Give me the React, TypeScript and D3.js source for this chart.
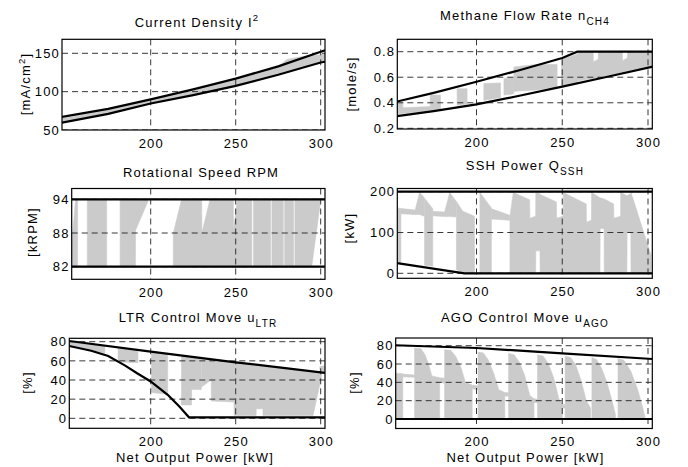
import React from 'react'
import { scaleLinear, area, line } from 'd3'

// x ticks shared by every panel (net output power, kW)
const xTicks = [200, 250, 300]

// ---- Current density ----
const curTicks = [50, 100, 150]
const curUpper = [[147.8, 67], [175, 77.5], [200, 90], [225, 103], [250, 117], [275, 133], [300, 152], [302.5, 154]]
const curLower = [[147.8, 59.5], [175, 71], [200, 84.5], [225, 95.5], [250, 107.5], [275, 122], [300, 138], [302.5, 139]]
const curBands = [
    [[147.8, 60.5, 65], [160, 65.5, 70], [175, 72, 76], [200, 85, 88.5], [225, 96.5, 101], [240, 103, 110],
     [250, 108.5, 115], [265, 117, 125], [275, 123, 132], [280, 126.5, 142], [290, 132, 146], [300, 139, 148], [302.5, 140, 149]],
]

// ---- Methane flow rate ----
const ch4Ticks = [0.2, 0.4, 0.6, 0.8]
const ch4Upper = [[153.7, 0.41], [175, 0.478], [200, 0.565], [225, 0.655], [250, 0.75], [258.8, 0.8], [302.8, 0.8]]
const ch4Lower = [[153.7, 0.296], [175, 0.335], [200, 0.388], [225, 0.455], [250, 0.526], [275, 0.6], [302.8, 0.683]]
const ch4Bands = [
    [[153.7, 0.31, 0.4], [157, 0.315, 0.4], [157.1, 0.315, 0.36], [172.9, 0.335, 0.37]],
    [[173, 0.34, 0.46], [179, 0.35, 0.46]],
    [[188.7, 0.38, 0.51], [194.5, 0.39, 0.51]],
    [[204.3, 0.42, 0.55], [214, 0.44, 0.555]],
    [[216, 0.46, 0.59], [221.7, 0.47, 0.6]],
    [[221.8, 0.49, 0.68], [235, 0.5, 0.7], [247, 0.52, 0.7]],
    [[249.5, 0.53, 0.74], [258.9, 0.56, 0.78], [259, 0.57, 0.8], [268, 0.59, 0.8], [268.1, 0.59, 0.72],
     [271, 0.6, 0.74], [271.1, 0.6, 0.8], [285, 0.64, 0.8], [285.1, 0.64, 0.73], [288, 0.65, 0.75],
     [288.1, 0.65, 0.8], [302.8, 0.69, 0.8]],
]

// ---- Rotational speed ----
const rpmTicks = [82, 88, 94]
const rpmUpper = [[153.5, 94], [302.5, 94]]
const rpmLower = [[153.5, 82], [302.5, 82]]
const rpmBands = [
    [[153.5, 82, 85.5], [155.8, 82, 94], [157, 82, 94]],
    [[162.7, 82, 94], [174.1, 82, 94]],
    [[182, 82, 94], [191, 82, 94], [191.1, 88.5, 94], [198.6, 93.8, 94]],
    [[213.3, 82, 88], [218.2, 82, 94], [230, 82, 94], [230.1, 82, 88], [234.9, 82, 94], [248.6, 82, 94],
     [248.7, 82, 88.5], [251, 82, 94], [259.5, 82, 94]],
    [[260.5, 82, 94], [270.5, 82, 94]],
    [[271.3, 82, 94], [278, 82, 94]],
    [[278.8, 82, 94], [284, 82, 94]],
    [[284.8, 82, 94], [294.7, 82, 94], [299.6, 93, 94]],
]

// ---- SSH power ----
const sshTicks = [0, 100, 200]
const sshUpper = [[153.7, 200], [302.8, 200]]
const sshLower = [[153.7, 25], [193, 0], [302.8, 0]]
const sshBands = [
    [[153.7, 26, 160], [155.9, 25, 159]],
    [[156, 146, 159], [164.2, 144, 155], [164.3, 144, 156], [166.8, 144, 198], [169.6, 140, 185]],
    [[169.7, 20, 184], [174.5, 17, 158]],
    [[174.6, 141, 152], [181.4, 139, 150], [184.4, 139, 198], [188.2, 138, 176]],
    [[188.3, 9, 176], [192, 1, 152], [198.8, 1, 140]],
    [[202, 1, 198], [208.7, 1, 160]],
    [[208.8, 133, 158], [219.4, 130, 142]],
    [[219.5, 1, 140], [221.5, 1, 198], [231, 1, 180], [231.1, 1, 135], [234.5, 1, 140], [234.6, 55, 198],
     [237, 55, 195], [237.1, 1, 193], [246.6, 1, 175], [246.7, 1, 135], [250.5, 1, 140], [250.6, 1, 198],
     [264, 1, 170], [264.1, 1, 125], [267, 1, 130], [267.1, 1, 198], [272, 1, 185], [272.1, 110, 185],
     [274.4, 110, 182], [274.5, 1, 182], [280, 1, 170], [280.1, 1, 135], [284, 1, 140], [284.1, 1, 198],
     [287.7, 1, 190], [287.8, 100, 190], [290, 100, 195], [290.1, 1, 198], [301.7, 1, 45]],
]

// ---- LTR control move ----
const ltrTicks = [0, 20, 40, 60, 80]
const ltrUpper = [[152.1, 80.7], [200, 69.6], [250, 58.5], [300, 48], [302.5, 47.5]]
const ltrLower = [[152.1, 75.5], [165, 70.5], [175, 65], [185, 55], [192, 47], [200, 38.5], [210, 24.5], [217, 12], [222.5, 1], [302.5, 1]]
const ltrBands = [
    [[152.1, 76.5, 80.5], [160, 73.5, 78.5], [168, 70, 76.5], [173, 68, 75.5]],
    [[180.8, 59, 74], [192.5, 58, 71]],
    [[200.5, 27, 69], [210, 25, 67]],
    [[218.1, 14, 65], [224, 14, 64], [224.1, 30, 64], [229.8, 30, 63]],
    [[230, 33, 63], [235.6, 40, 62], [235.7, 18, 62], [249, 17, 58.5], [249.1, 3, 58.5], [262, 3, 56],
     [262.1, 10, 56], [266, 10, 55], [266.1, 3, 55], [295.5, 3, 49], [300.5, 44, 48.5]],
    [[299.5, 47, 54], [302.5, 47, 55]],
]

// ---- AGO control move ----
const agoTicks = [0, 20, 40, 60, 80]
const agoUpper = [[152.6, 80.5], [200, 77.5], [250, 71.7], [302.7, 65.5]]
const agoLower = [[152.6, 0], [302.7, 0]]
const agoBands = [
    [[152.6, 0, 50], [157, 0, 49.5]],
    [[157.1, 46, 49], [163.8, 45.5, 48]],
    [[163.9, 0, 77.5], [167.5, 0, 77], [170, 0, 70], [172, 0, 60], [174, 0, 47], [178.5, 0, 45]],
    [[178.6, 40, 45], [181.3, 39, 44.5]],
    [[181.4, 0, 75.5], [185, 0, 75], [188, 0, 68], [191, 0, 56], [193.5, 0, 40], [197.5, 0, 37]],
    [[197.6, 33, 37], [200.8, 32, 36]],
    [[200.9, 0, 73], [204, 0, 72], [207, 0, 64], [210, 0, 50], [213, 0, 32], [216.5, 0, 29]],
    [[216.6, 25, 29], [218.6, 25, 28.5]],
    [[218.7, 0, 71.5], [222, 0, 70], [225, 0, 62], [228, 0, 48], [231, 0, 26], [233.5, 0, 22]],
    [[233.6, 18, 22], [235.5, 18, 21.5]],
    [[235.6, 0, 70], [239, 0, 68.5], [242, 0, 60], [245, 0, 45], [248, 0, 22], [250, 0, 16]],
    [[250.1, 12, 16], [251.6, 12, 15.5]],
    [[251.7, 0, 68.5], [255, 0, 67], [258, 0, 58], [261, 0, 42], [264, 0, 20], [266.5, 0, 12]],
    [[267.3, 0, 67], [270, 0, 65], [273, 0, 55], [276, 0, 40], [279, 0, 20], [281, 0, 5]],
    [[282.5, 0, 66], [286, 0, 64], [290, 0, 52], [294, 0, 32], [297, 0, 12], [298.5, 0, 0]],
]

const FONT = "Arial, 'Liberation Sans', Helvetica, sans-serif"
const GRAY = '#cbcbcb'

const panels = [
    { id: 'cur', box: [62, 325, 39.3, 130], xr: [150.7, 320.7], yd: [50, 150], yr: [130, 53.3],
      ticks: curTicks, bands: curBands, lines: [curUpper, curLower],
      title: { x: 197, y: 26.5 }, ylab: { x: 30, y: 84 } },
    { id: 'ch4', box: [397.3, 652.3, 39.3, 129], xr: [476.5, 648], yd: [0.2, 0.8], yr: [128.3, 51.7],
      ticks: ch4Ticks, bands: ch4Bands, lines: [ch4Upper, ch4Lower],
      title: { x: 525, y: 20 }, ylab: { x: 355.5, y: 84 } },
    { id: 'rpm', box: [71.7, 325, 188.5, 279.3], xr: [150.7, 320.7], yd: [82, 94], yr: [266.7, 199.3],
      ticks: rpmTicks, bands: rpmBands, lines: [rpmUpper, rpmLower],
      title: { x: 201, y: 176.7 }, ylab: { x: 36.5, y: 232 } },
    { id: 'ssh', box: [397.3, 652.3, 188.5, 278.3], xr: [476.5, 648], yd: [0, 200], yr: [273.3, 191.7],
      ticks: sshTicks, bands: sshBands, lines: [sshUpper, sshLower],
      title: { x: 525, y: 170 }, ylab: { x: 354, y: 228 } },
    { id: 'ltr', box: [69.3, 325, 338.3, 428.3], xr: [150.7, 320.7], yd: [0, 80], yr: [418.3, 341.7],
      ticks: ltrTicks, bands: ltrBands, lines: [ltrUpper, ltrLower],
      title: { x: 198, y: 321.5 }, ylab: { x: 31.5, y: 382.5 }, xlab: { x: 195, y: 461.5 } },
    { id: 'ago', box: [395.7, 652.3, 338, 428.5], xr: [476.5, 648], yd: [0, 80], yr: [419, 345.7],
      ticks: agoTicks, bands: agoBands, lines: [agoUpper, agoLower],
      title: { x: 525, y: 321.5 }, ylab: { x: 359, y: 382.5 }, xlab: { x: 525.5, y: 461.5 } },
]

const titles = {
    cur: <>Current Density I<tspan dy={-6} fontSize={9.5}>2</tspan></>,
    ch4: <>Methane Flow Rate n<tspan dy={5} fontSize={10}>CH4</tspan></>,
    rpm: <>Rotational Speed RPM</>,
    ssh: <>SSH Power Q<tspan dy={5} fontSize={10}>SSH</tspan></>,
    ltr: <>LTR Control Move u<tspan dy={5} fontSize={10}>LTR</tspan></>,
    ago: <>AGO Control Move u<tspan dy={5} fontSize={10}>AGO</tspan></>,
}

const ylabels = {
    cur: <>[mA/cm<tspan dy={-5} fontSize={9.5}>2</tspan><tspan dy={5}>]</tspan></>,
    ch4: <>[mole/s]</>,
    rpm: <>[kRPM]</>,
    ssh: <>[kW]</>,
    ltr: <>[%]</>,
    ago: <>[%]</>,
}

function Panel({ p }) {
    const [l, r, t, b] = p.box
    const x = scaleLinear().domain([200, 300]).range(p.xr)
    const y = scaleLinear().domain(p.yd).range(p.yr)
    const band = area().x(d => x(d[0])).y0(d => y(d[1])).y1(d => y(d[2]))
    const path = line().x(d => x(d[0])).y(d => y(d[1]))
    const clip = `clip-${p.id}`

    return (
        <g>
            <defs>
                <clipPath id={clip}>
                    <rect x={l} y={t} width={r - l} height={b - t} />
                </clipPath>
            </defs>
            <g clipPath={`url(#${clip})`}>
                {p.bands.map((s, i) => (
                    <path key={i} d={band(s)} fill={GRAY} stroke={GRAY} strokeWidth={0.6} />
                ))}
                {xTicks.map(v => (
                    <line key={'gx' + v} x1={x(v)} x2={x(v)} y1={t} y2={b}
                        stroke="#222" strokeWidth={0.9} strokeDasharray="6,4" />
                ))}
                {p.ticks.map(v => (
                    <line key={'gy' + v} x1={l} x2={r} y1={y(v)} y2={y(v)}
                        stroke="#222" strokeWidth={0.9} strokeDasharray="6,4" />
                ))}
                {p.lines.map((ln, i) => (
                    <path key={i} d={path(ln)} fill="none" stroke="#000" strokeWidth={2.2} />
                ))}
            </g>
            <rect x={l} y={t} width={r - l} height={b - t} fill="none" stroke="#000" strokeWidth={1.2} />
            {xTicks.map(v => (
                <text key={'tx' + v} x={x(v) + 0.6} y={b + 17.8} textAnchor="middle">{v}</text>
            ))}
            {p.ticks.map(v => (
                <text key={'ty' + v} x={l - 2} y={y(v)} dy="0.36em" textAnchor="end">{v}</text>
            ))}
            <text x={p.title.x} y={p.title.y} textAnchor="middle">{titles[p.id]}</text>
            <text transform={`translate(${p.ylab.x},${p.ylab.y}) rotate(-90)`} textAnchor="middle">
                {ylabels[p.id]}
            </text>
            {p.xlab && (
                <text x={p.xlab.x} y={p.xlab.y} textAnchor="middle">Net Output Power [kW]</text>
            )}
        </g>
    )
}

function App() {
    return (
        <svg width={688} height={467} style={{ position: 'absolute', left: 0, top: 0, background: '#fff' }}
            fontFamily={FONT} fontSize={13} letterSpacing={1.2}>
            <rect width={688} height={467} fill="#fff" />
            {panels.map(p => <Panel key={p.id} p={p} />)}
        </svg>
    )
}

export default App
